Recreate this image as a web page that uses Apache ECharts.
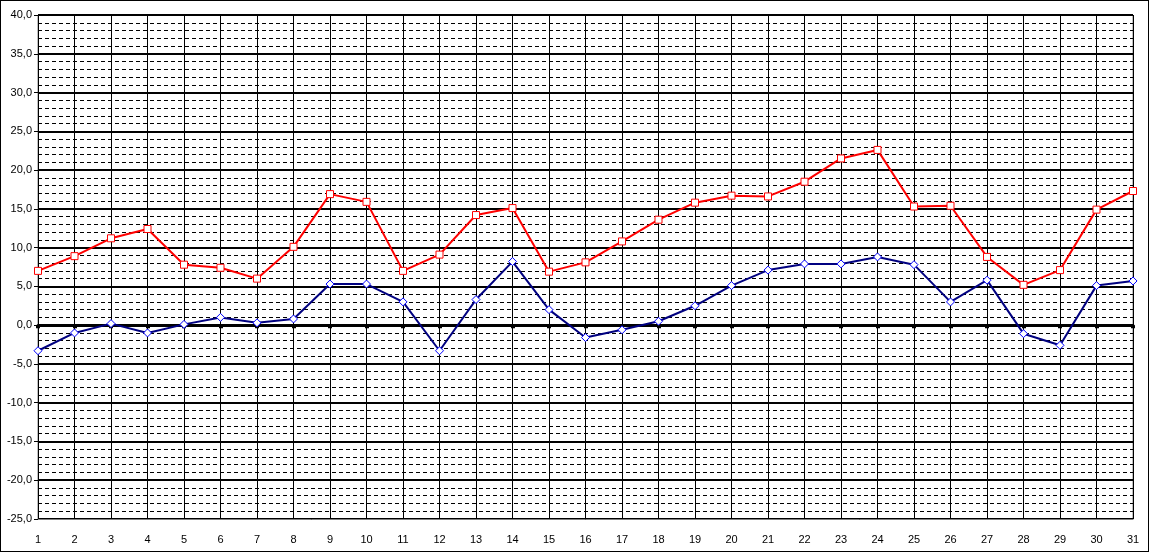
<!DOCTYPE html>
<html><head><meta charset="utf-8">
<script src="https://cdn.jsdelivr.net/npm/echarts@6/dist/echarts.min.js"></script>
<style>html,body{margin:0;padding:0;background:#fff}#wrap{position:relative;width:1149px;height:552px}#c{width:1149px;height:552px}#frame{position:absolute;left:0;top:0;width:1149px;height:552px;box-sizing:border-box;border:1px solid #000;pointer-events:none}</style>
</head><body><div id="wrap"><div id="c"></div><div id="frame"></div></div>
<script>
const days = ['1','2','3','4','5','6','7','8','9','10','11','12','13','14','15','16','17','18','19','20','21','22','23','24','25','26','27','28','29','30','31'];
const maxTemp = [7.0,8.9,11.2,12.4,7.8,7.4,6.0,10.1,16.9,15.9,7.0,9.1,14.2,15.1,6.9,8.1,10.8,13.6,15.8,16.7,16.6,18.5,21.5,22.6,15.3,15.4,8.8,5.2,7.1,14.9,17.3];
const minTemp = [-3.3,-1.0,0.2,-1.0,0.1,1.0,0.3,0.8,5.3,5.3,3.0,-3.3,3.3,8.2,2.0,-1.6,-0.6,0.5,2.5,5.1,7.1,7.9,7.9,8.8,7.8,3.0,5.8,-1.1,-2.6,5.1,5.7];
const yMin = -25, yMax = 40, yMajor = 5, yMinor = 1;

const chart = echarts.init(document.getElementById('c'), null, {renderer:'canvas'});
const font = {fontFamily:'"Liberation Sans", Arial, sans-serif', fontSize:11, color:'#000'};
chart.setOption({
  animation:false,
  backgroundColor:'#fff',
  grid:{left:38, right:16, top:15, bottom:33, show:true, borderColor:'#808080', borderWidth:1},
  xAxis:[{
    type:'category', data:days, boundaryGap:false, position:'bottom',
    axisLine:{onZero:false, lineStyle:{color:'#808080', width:1}},
    axisTick:{show:false},
    axisLabel:Object.assign({margin:15, interval:0}, font),
    splitLine:{show:true, interval:0, lineStyle:{color:'#000', width:1}}
  },{
    type:'category', data:days, boundaryGap:false, position:'bottom',
    axisLine:{onZero:true, lineStyle:{color:'#000', width:3}},
    axisTick:{show:true, interval:0, length:3, lineStyle:{color:'#000', width:4}},
    axisLabel:{show:false},
    splitLine:{show:false}
  }],
  yAxis:{
    type:'value', min:yMin, max:yMax, interval:yMajor,
    axisLine:{show:true, lineStyle:{color:'#000', width:1}},
    axisTick:{show:true, length:4, lineStyle:{color:'#000'}},
    axisLabel:Object.assign({margin:6, formatter:v=>v.toFixed(1).replace('.',',')}, font),
    splitLine:{show:true, lineStyle:{color:'#000', width:2}},
    minorTick:{show:false, splitNumber:yMajor/yMinor},
    minorSplitLine:{show:true, lineStyle:{color:'#000', width:1, type:[4,3]}}
  },
  series:[{
    type:'line', data:maxTemp, xAxisIndex:0,
    symbol:'rect', symbolSize:7, showAllSymbol:true,
    lineStyle:{color:'#FF0000', width:2},
    itemStyle:{color:'#fff', borderColor:'#FF0000', borderWidth:1},
    z:5
  },{
    type:'line', data:minTemp, xAxisIndex:0,
    symbol:'diamond', symbolSize:8, showAllSymbol:true,
    lineStyle:{color:'#000080', width:2},
    itemStyle:{color:'#fff', borderColor:'#0000FF', borderWidth:1},
    z:5
  }]
});
</script></body></html>
